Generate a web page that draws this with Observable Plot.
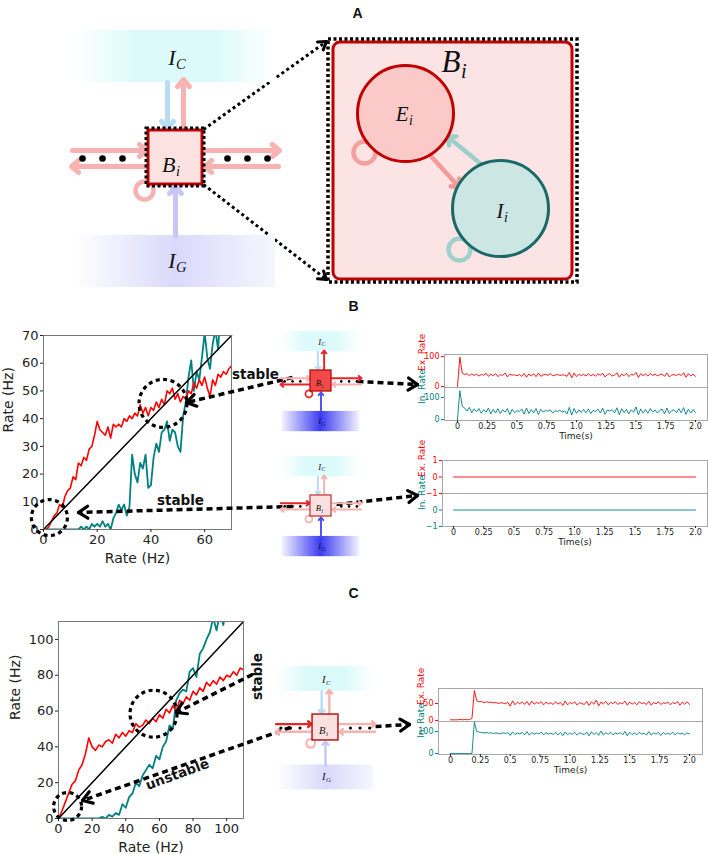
<!DOCTYPE html>
<html><head><meta charset="utf-8">
<script src="https://cdn.jsdelivr.net/npm/d3@7"></script>
<script src="https://cdn.jsdelivr.net/npm/@observablehq/plot@0.6"></script>
<style>
body{margin:0;background:#fff;}
#root{position:relative;width:708px;height:854px;overflow:hidden;background:#fff;font-family:"DejaVu Sans",sans-serif;}
#root > div{position:absolute;}
#root svg{display:block;max-width:none;}
</style></head><body><div id="root"></div>
<script>
// ---------------- DATA ----------------
const RED = "#ff0000", TEAL = "#008080";

// Panel B: steady-state output rate vs input rate
const rateB = d3.range(0, 71);
const exB = [0,0,1,3,5,6,9,8,12,14,15,19,18,24,23,26,25,29,30,34,39,36,35,34,37,33,38,37,38,37,40,39,41,40,42,41,45,42,44,41,44,43,46,44,47,45,50,49,51,47,49,46,48,47,50,49,53,51,54,52,55,51,48,54,52,56,55,57,56,58,59];
const inB = [0,0,0,0,0,0,0,0,0,0,0,0,0,0,
  1,0,1,0,2,1,2,1,3,1,2,0,4,6,9,7,9,5,8,
  27,20,17,24,22,27,15,16,26,31,28,35,36,39,32,36,35,30,28,
  41,46,55,61,50,57,54,62,71,62,58,67,72,65,80,75,72,80,85];
const xTicksB = [0,20,40,60];
const yTicksB = [0,10,20,30,40,50,60,70];

// Panel C
const rateC = d3.range(0, 111, 2);
const exC = [0,4,9,14,19,21,27,30,36,45,40,38,41,40,43,44,42,47,45,48,46,49,48,53,51,52,55,53,56,54,58,56,61,59,63,60,66,64,68,66,71,69,73,71,76,74,77,75,79,77,80,79,82,80,84,83];
const inC = [0,0,0,0,0,0,0,0,0,0,0,0,0,
  1,0,2,1,3,2,8,6,12,14,20,18,24,27,30,28,35,33,40,43,52,50,66,70,72,71,82,84,79,92,95,100,104,112,105,115,108,120,115,125,118,130,128];
const ticksC = [0,20,40,60,80,100];

// Time series (t = 0 .. 2.0 s, step 0.02)
const tGrid = d3.range(0, 101).map(i => +(i * 0.02).toFixed(2));
const exTsB = [0,98,45,40,43,36,42,37,41,35, 40,38,44,34,41,36,43,33,40,37, 45,32,41,38,39,36,40,34,44,31, 42,35,43,33,45,34,39,41,37,43, 36,38,40,37,39,38,34,47,29,45, 33,41,37,40,35,43,36,40,35,42, 38,44,32,40,43,35,38,46,31,42, 36,44,33,41,38,47,30,43,36,42, 35,44,37,41,36,39,42,34,45,32, 38,40,36,42,37,46,31,43,35,41, 34];
const inTsB = [0,130,60,52,38,55,30,48,35,50, 28,45,33,52,25,46,30,49,27,44, 34,50,22,47,31,40,36,48,24,52, 27,45,30,50,23,46,34,41,38,44, 29,40,36,42,33,39,25,55,20,50, 28,44,32,46,30,48,27,42,35,47, 29,51,24,43,38,45,30,53,22,49, 31,46,26,44,33,57,21,48,30,45, 28,50,34,43,29,41,47,25,52,27, 40,44,31,49,30,54,23,47,29,45, 32];
const flatT = [0, 2.0], flatEx = [0, 0], flatIn = [0, 0];
const exTsC = [2,2,2,2,3,2,3,2,3,6, 88,58,55,56,52,55,53,54,52,53, 50,52,51,50,53,42,58,46,54,49, 55,47,56,45,57,48,53,50,55,46, 54,49,52,47,55,48,53,44,57,46, 53,49,55,45,52,50,47,56,44,55, 48,60,43,54,49,56,46,53,50,55, 47,52,49,57,45,54,48,53,46,55, 50,52,47,56,45,53,49,55,47,52, 50,54,46,53,49,56,45,54,48,55, 47];
const inTsC = [0,0,0,0,0,0,0,0,0,0, 142,100,97,95,93,96,92,94,90,93, 91,89,94,90,95,82,98,86,93,88, 96,84,99,83,95,87,93,89,97,85, 94,88,92,86,96,84,95,81,98,85, 93,87,96,83,94,89,86,97,80,99, 86,95,82,102,84,94,87,96,85,93, 88,95,84,100,80,97,86,93,85,96, 88,92,84,99,83,94,88,96,82,95, 87,93,86,97,84,94,88,92,85,94, 89];
const timeTicks = [0,0.25,0.5,0.75,1.0,1.25,1.5,1.75,2.0];

// Annotations (data units of the rate plots)
const circlesB = [{x:44.5, y:45.5, r:24}, {x:2.2, y:4.3, r:18}];
const circlesC = [{x:56.5, y:58.5, r:23.5}, {x:5.4, y:6.7, r:14}];

// ---------------- LAYOUT HELPERS ----------------
const root = document.getElementById("root");
function place(el, left, top, w, h) {
  const d = document.createElement("div");
  d.style.left = left + "px"; d.style.top = top + "px";
  d.style.width = w + "px"; d.style.height = h + "px";
  d.appendChild(el); root.appendChild(d); return el;
}
const baseStyle = {fontFamily: "DejaVu Sans", color: "#222", background: "transparent", overflow: "visible"};

function ratePlot(c) {
  const marks = [
    Plot.line(c.xs.map((x, i) => [x, c.inh[i]]), {stroke: TEAL, strokeWidth: 1.8, clip: true}),
    Plot.line(c.xs.map((x, i) => [x, c.ex[i]]), {stroke: RED, strokeWidth: 1.6, clip: true}),
    Plot.line([[0, 0], [c.max, c.max]], {stroke: "black", strokeWidth: 1.5}),
    Plot.frame({stroke: "#777"}),
    Plot.axisX({ticks: c.xt, tickSize: 3, tickPadding: 2, fontSize: 13, label: null}),
    Plot.axisY({ticks: c.yt, tickSize: 3, tickPadding: 2, fontSize: 13, label: null}),
    Plot.text(["Rate (Hz)"], {text: d => d, frameAnchor: "bottom", dy: 29, lineAnchor: "middle", fontSize: 14}),
    Plot.text(["Rate (Hz)"], {text: d => d, frameAnchor: "left", dx: c.ylabDx, rotate: -90, lineAnchor: "middle", fontSize: 14})
  ];
  for (const ci of c.circles)
    marks.push(Plot.dot([ci], {x: "x", y: "y", r: ci.r, stroke: "black", strokeWidth: 3.2, strokeDasharray: "4,3.5", fill: "none"}));
  return Plot.plot({
    width: c.width, height: c.height,
    marginLeft: c.ml, marginRight: c.mr, marginTop: c.mt, marginBottom: c.mb,
    x: {domain: [0, c.max]}, y: {domain: [0, c.max]},
    style: baseStyle, marks
  });
}

const fmtT = d => (d === 0 ? "0" : Number.isInteger(d) ? d.toFixed(1) : String(d));
const fmtY = d => (d < 0 ? "\u2212" + (-d) : String(d));
function tsPlot(c) {
  const marks = [
    Plot.frame({stroke: "#a8a8a8"}),
    Plot.line(c.t.map((x, i) => [x, c.v[i]]), {stroke: c.color, strokeWidth: 0.9, clip: true}),
    Plot.axisY({ticks: c.yticks, tickFormat: fmtY, tickSize: 3, tickPadding: 2, fontSize: 8, color: c.color, label: null}),
    Plot.text([c.label], {text: d => d, frameAnchor: "left", dx: c.labelDx, rotate: -90, lineAnchor: "middle", fontSize: 9, fill: c.color})
  ];
  if (c.xaxis) {
    marks.push(Plot.axisX({ticks: timeTicks, tickFormat: fmtT, tickSize: 2, tickPadding: 1, fontSize: 8, label: null}));
    marks.push(Plot.text(["Time(s)"], {text: d => d, frameAnchor: "bottom", dy: c.xlabDy, lineAnchor: "middle", fontSize: 9}));
  }
  return Plot.plot({
    width: c.width, height: c.height,
    marginLeft: c.ml, marginRight: c.mr, marginTop: c.mt, marginBottom: c.mb,
    x: c.xaxis ? {domain: c.xdom} : {domain: c.xdom, axis: null},
    y: {domain: c.ydom},
    style: baseStyle, marks
  });
}

// ---------------- RATE PLOTS ----------------
place(ratePlot({width: 250, height: 250, ml: 43, mr: 19, mt: 15, mb: 41, max: 70,
  xs: rateB, ex: exB, inh: inB, xt: xTicksB, yt: yTicksB, circles: circlesB, ylabDx: -35}), 0, 320, 250, 250);
place(ratePlot({width: 260, height: 254, ml: 58, mr: 17, mt: 21, mb: 36, max: 110,
  xs: rateC, ex: exC, inh: inC, xt: ticksC, yt: ticksC, circles: circlesC, ylabDx: -43}), 0, 600, 260, 254);

// ---------------- TIME SERIES ----------------
const tsPanels = [
  {top: 350, height: 37, ml: 44, mr: 1, mb: 0, xdom: [-0.109, 2.101], ydom: [-3.3, 107], yticks: [0, 100], t: tGrid, v: exTsB, color: RED, label: "Ex. Rate", labelDx: -22},
  {top: 383, height: 67, ml: 44, mr: 1, mb: 30, xdom: [-0.109, 2.101], ydom: [-4.5, 145], yticks: [0, 100], t: tGrid, v: inTsB, color: TEAL, label: "In. Rate", labelDx: -22, xaxis: true, xlabDy: 16},
  {top: 456, height: 37, ml: 42, mr: 1, mb: 0, xdom: [-0.091, 2.099], ydom: [-1, 1], yticks: [-1, 0, 1], t: flatT, v: flatEx, color: RED, label: "Ex. Rate", labelDx: -20},
  {top: 489, height: 67, ml: 42, mr: 1, mb: 30, xdom: [-0.091, 2.099], ydom: [-1, 1], yticks: [-1, 0], t: flatT, v: flatIn, color: TEAL, label: "In. Rate", labelDx: -20, xaxis: true, xlabDy: 16},
  {top: 684, height: 37, ml: 38, mr: 6, mb: 0, xdom: [-0.1, 2.109], ydom: [-3, 94], yticks: [0, 50], t: tGrid, v: exTsC, color: RED, label: "Ex. Rate", labelDx: -17},
  {top: 717, height: 67, ml: 38, mr: 6, mb: 30, xdom: [-0.1, 2.109], ydom: [-4.5, 145], yticks: [0, 100], t: tGrid, v: inTsC, color: TEAL, label: "In. Rate", labelDx: -17, xaxis: true, xlabDy: 16}
];
for (const p of tsPanels) place(tsPlot({...p, width: 308, mt: 4}), 400, p.top, 308, p.height);

// ---------------- DIAGRAMS + ANNOTATIONS (overlay) ----------------
const PALE_PINK = "#f7b2b2", STRONG = "#e8262a", PALE_BLUE = "#b7dcf6", PALE_LAV = "#c6c6f7", BLUE = "#5050f0";
const boxIC = [-100, -127, 100, -75], boxIG = [-100, 78, 100, 130];
const unitArrows = {down: [-8, -75, -8, -29], up: [8, -28, 8, -78], fromG: [0, 78, 0, 29],
  inL: [-103, -7, -29, -7], outL: [-28, 9, -104, 9], outR: [28, -7, 104, -7], inR: [103, 9, 29, 9]};
const unitDots = [-93, -73, -53, 52, 72, 92];
const loopPos = [-31, 33];
const unitLabels = [{main: "I", sub: "C", uy: -100}, {main: "I", sub: "G", uy: 103}, {main: "B", sub: "i", uy: 7}];
const diagrams = [
  {cx: 175, cy: 157, s: 1, sqFill: "#fde2e2", sqStroke: "#c00000", ig: "gGpale", outline: true,
   inL: PALE_PINK, outL: PALE_PINK, outR: PALE_PINK, inR: PALE_PINK, up: PALE_PINK, down: PALE_BLUE, fromG: PALE_LAV, loop: PALE_PINK},
  {cx: 320.5, cy: 380.5, s: 0.39, sqFill: "#f24848", sqStroke: "#b00000", ig: "gGstrong",
   inL: PALE_PINK, outL: STRONG, outR: STRONG, inR: PALE_PINK, up: STRONG, down: PALE_BLUE, fromG: BLUE, loop: STRONG},
  {cx: 320.5, cy: 505.5, s: 0.39, sqFill: "#fbe0e0", sqStroke: "#c02828", ig: "gGstrong",
   inL: STRONG, outL: PALE_PINK, outR: PALE_PINK, inR: PALE_PINK, up: PALE_PINK, down: PALE_BLUE, fromG: BLUE, loop: PALE_PINK},
  {cx: 325, cy: 727, s: 0.48, sqFill: "#fbe0e0", sqStroke: "#b01010", ig: "gGpale",
   inL: STRONG, outL: PALE_PINK, outR: PALE_PINK, inR: PALE_PINK, up: PALE_PINK, down: PALE_BLUE, fromG: PALE_LAV, loop: PALE_PINK}
];

// Panel A zoomed block
const zoomFrame = [328, 39, 577, 282], zoomBox = [333, 42, 572, 279];
const cells = [{x: 405, y: 113, r: 48, fill: "#fcc9c9", stroke: "#c00000"}, {x: 500, y: 208, r: 48, fill: "#cce6e4", stroke: "#1a6868"}];
const cellArrows = [{x1: 428, y1: 153, x2: 459, y2: 187, c: "#f59a9a"}, {x1: 481, y1: 164, x2: 447, y2: 136, c: "#9ccfca"}];
const cellLoops = [{x: 364, y: 152, c: "#f5a0a0"}, {x: 459, y: 249, c: "#9fd0cc"}];
const bigLabels = [{main: "B", sub: "i", xEnd: 460, y: 62, f: 31}, {main: "E", sub: "i", xEnd: 408, y: 114, f: 21}, {main: "I", sub: "i", xEnd: 503, y: 211, f: 21}];

// Dashed annotation arrows (tip at x2,y2)
const dashArrows = [
  {x1: 292, y1: 377, x2: 186, y2: 402}, {x1: 292, y1: 506, x2: 78, y2: 512},
  {x1: 357, y1: 381, x2: 417, y2: 384}, {x1: 336, y1: 504, x2: 417, y2: 495},
  {x1: 252, y1: 674, x2: 176, y2: 712}, {x1: 290, y1: 727, x2: 82, y2: 800},
  {x1: 375, y1: 726, x2: 409, y2: 724}
];
const dotArrows = [{x1: 203, y1: 129, x2: 326, y2: 41}, {x1: 203, y1: 184, x2: 326, y2: 279}];
const stabilityText = [
  {x: 255, y: 374, text: "stable", rot: 0}, {x: 180, y: 500, text: "stable", rot: 0},
  {x: 257, y: 676, text: "stable", rot: -90}, {x: 177, y: 774, text: "unstable", rot: -20}
];
const panelLetters = [{x: 357, y: 13, text: "A"}, {x: 353, y: 306, text: "B"}, {x: 353, y: 593, text: "C"}];

function wings(d, len, ang) {
  const dx = d.x2 - d.x1, dy = d.y2 - d.y1, L = Math.hypot(dx, dy), ux = dx / L, uy = dy / L;
  return [ang, -ang].map(a => {
    const t = a * Math.PI / 180;
    const vx = Math.cos(t) * ux - Math.sin(t) * uy, vy = Math.sin(t) * ux + Math.cos(t) * uy;
    return {x1: d.x2, y1: d.y2, x2: d.x2 - len * vx, y2: d.y2 - len * vy};
  });
}
const rectCh = {x1: b => b[0], y1: b => b[1], x2: b => b[2], y2: b => b[3]};
const serif = {fontFamily: "Liberation Serif", fontStyle: "italic", fill: "#111"};

function labelMarks(list, f) {
  return [
    Plot.text(list, {x: d => d.xEnd, y: d => d.y, text: d => d.main, textAnchor: "end", fontSize: f, ...serif}),
    Plot.text(list, {x: d => d.xEnd + 0.5, y: d => d.y + 0.3 * f, text: d => d.sub, textAnchor: "start", fontSize: f * 0.66, ...serif})
  ];
}

function diagramMarks(d) {
  const X = u => d.cx + u * d.s, Y = u => d.cy + u * d.s;
  const m = [];
  m.push(Plot.rect([boxIC], {x1: b => X(b[0]), y1: b => Y(b[1]), x2: b => X(b[2]), y2: b => Y(b[3]), fill: "url(#gC)"}));
  m.push(Plot.rect([boxIG], {x1: b => X(b[0]), y1: b => Y(b[1]), x2: b => X(b[2]), y2: b => Y(b[3]), fill: `url(#${d.ig})`}));
  const arr = Object.keys(unitArrows).map(k => {
    const a = unitArrows[k];
    return {x1: X(a[0]), y1: Y(a[1]), x2: X(a[2]), y2: Y(a[3]), c: d[k]};
  });
  m.push(Plot.arrow(arr, {x1: "x1", y1: "y1", x2: "x2", y2: "y2", stroke: "c", strokeWidth: 5 * d.s, headLength: 2.8, headAngle: 80}));
  m.push(Plot.dot([loopPos], {x: p => X(p[0]), y: p => Y(p[1]), r: 9 * d.s, stroke: d.loop, strokeWidth: 4.5 * d.s, fill: "none"}));
  m.push(Plot.rect([[-27, -27, 27, 27]], {x1: b => X(b[0]), y1: b => Y(b[1]), x2: b => X(b[2]), y2: b => Y(b[3]), fill: d.sqFill, stroke: d.sqStroke, strokeWidth: 3 * d.s}));
  if (d.outline) m.push(Plot.rect([[-29, -29, 29, 29]], {x1: b => X(b[0]), y1: b => Y(b[1]), x2: b => X(b[2]), y2: b => Y(b[3]), fill: "none", stroke: "black", strokeWidth: 3, strokeDasharray: "3,2.5"}));
  m.push(Plot.dot(unitDots, {x: u => X(u), y: () => Y(1), r: 3.3 * d.s, fill: "black"}));
  const f = 22 * d.s;
  m.push(...labelMarks(unitLabels.map(l => ({...l, xEnd: X(0), y: Y(l.uy)})), f));
  return m;
}

const overlayMarks = [
  // dashed arrows (under diagrams)
  Plot.link(dashArrows, {x1: "x1", y1: "y1", x2: "x2", y2: "y2", stroke: "black", strokeWidth: 3.5, strokeDasharray: "6,4"}),
  Plot.link(dashArrows.flatMap(d => wings(d, 11, 33)), {x1: "x1", y1: "y1", x2: "x2", y2: "y2", stroke: "black", strokeWidth: 3.2, strokeLinecap: "round"}),
  Plot.link(dotArrows, {x1: "x1", y1: "y1", x2: "x2", y2: "y2", stroke: "black", strokeWidth: 3, strokeDasharray: "3,3"}),
  Plot.link(dotArrows.flatMap(d => wings(d, 9, 33)), {x1: "x1", y1: "y1", x2: "x2", y2: "y2", stroke: "black", strokeWidth: 3, strokeLinecap: "round"}),
  // Panel A zoomed block
  Plot.rect([zoomBox], {...rectCh, fill: "#fde4e4", stroke: "#c00000", strokeWidth: 3, rx: 7}),
  Plot.rect([zoomFrame], {...rectCh, fill: "none", stroke: "black", strokeWidth: 3.5, strokeDasharray: "3,2.5"}),
  Plot.dot(cellLoops, {x: "x", y: "y", r: 11, stroke: "c", strokeWidth: 4.5, fill: "none"}),
  Plot.arrow(cellArrows, {x1: "x1", y1: "y1", x2: "x2", y2: "y2", stroke: "c", strokeWidth: 4.5, headLength: 3, headAngle: 80}),
  Plot.dot(cells, {x: "x", y: "y", r: 48, fill: "fill", stroke: "stroke", strokeWidth: 3}),
  ...labelMarks(bigLabels.filter(l => l.f === 31), 31),
  ...labelMarks(bigLabels.filter(l => l.f === 21), 21),
  ...diagrams.flatMap(diagramMarks),
  Plot.text(stabilityText, {x: "x", y: "y", text: "text", rotate: "rot", fontSize: 13.5, fontWeight: "bold", fontFamily: "DejaVu Sans", fill: "#111"}),
  Plot.text(panelLetters, {x: "x", y: "y", text: "text", fontSize: 14, fontWeight: "bold", fontFamily: "Liberation Sans", fill: "#111"})
];

const overlay = Plot.plot({
  width: 708, height: 854, margin: 0,
  x: {domain: [0, 708], range: [0, 708], axis: null},
  y: {domain: [0, 854], range: [0, 854], axis: null},
  color: {type: "identity"},
  style: {background: "transparent", overflow: "visible"},
  marks: overlayMarks
});
const defs = document.createElementNS("http://www.w3.org/2000/svg", "defs");
defs.innerHTML = `
<linearGradient id="gC" x1="0" x2="1" y1="0" y2="0">
  <stop offset="0" stop-color="#ffffff"/><stop offset="0.3" stop-color="#dcfafa"/>
  <stop offset="0.7" stop-color="#dcfafa"/><stop offset="1" stop-color="#ffffff"/></linearGradient>
<linearGradient id="gGpale" x1="0" x2="1" y1="0" y2="0">
  <stop offset="0" stop-color="#ffffff"/><stop offset="0.5" stop-color="#d9d9fb"/><stop offset="1" stop-color="#f6f6ff"/></linearGradient>
<linearGradient id="gGstrong" x1="0" x2="1" y1="0" y2="0">
  <stop offset="0" stop-color="#f4f4ff"/><stop offset="0.5" stop-color="#3c3cf2"/><stop offset="1" stop-color="#f4f4ff"/></linearGradient>`;
overlay.insertBefore(defs, overlay.firstChild);
place(overlay, 0, 0, 708, 854);
</script></body></html>
